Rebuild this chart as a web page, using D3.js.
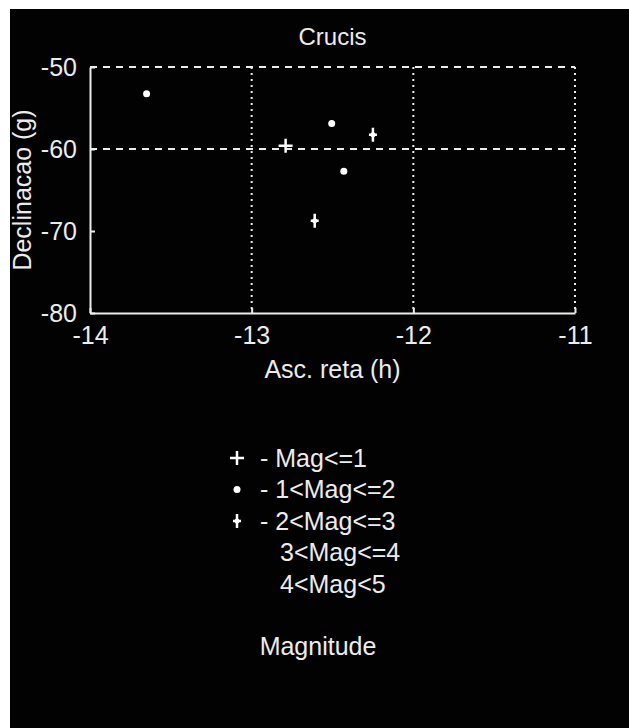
<!DOCTYPE html>
<html>
<head>
<meta charset="utf-8">
<script src="https://cdn.jsdelivr.net/npm/d3@7"></script>
<style>
  body { margin: 0; background: #fff; }
  text { font-family: "Liberation Sans", Arial, sans-serif; fill: #ececec; }
</style>
</head>
<body>
<div id="chart"></div>
<script>
// data
const ra = [-13.65, -12.79, -12.505, -12.25, -12.43, -12.61];
const dec = [-53.25, -59.6, -56.9, -58.25, -62.7, -68.75];
const magClass = [2, 1, 2, 3, 2, 3];
const legendLabels = ["- Mag<=1", "- 1<Mag<=2", "- 2<Mag<=3", "3<Mag<=4", "4<Mag<5"];
const xTickVals = [-14, -13, -12, -11];
const yTickVals = [-50, -60, -70, -80];
const gridX = [-13, -12];
const gridY = [-60];

const width = 629;
const height = 728;
const plot = {l: 90, r: 575, t: 67, b: 313};
const ink = "#ececec";
const fmt = d => String(d); // plain hyphen, like the original

const svg = d3.select("#chart")
    .append("svg")
    .attr("width", width)
    .attr("height", height);

// black panel
svg.append("rect")
    .attr("x", 10)
    .attr("y", 9)
    .attr("width", width - 10)
    .attr("height", height - 9)
    .attr("fill", "#020202");

const xScale = d3.scaleLinear().domain([-14, -11]).range([plot.l, plot.r]);
const yScale = d3.scaleLinear().domain([-80, -50]).range([plot.b, plot.t]);

// grid
gridX.forEach(v => {
    svg.append("line")
        .attr("x1", xScale(v)).attr("x2", xScale(v))
        .attr("y1", plot.t).attr("y2", plot.b)
        .attr("stroke", ink).attr("stroke-width", 2)
        .attr("stroke-dasharray", "2,4");
});
gridY.forEach(v => {
    svg.append("line")
        .attr("x1", plot.l).attr("x2", plot.r)
        .attr("y1", yScale(v)).attr("y2", yScale(v))
        .attr("stroke", ink).attr("stroke-width", 2)
        .attr("stroke-dasharray", "7,6");
});

// box: top dashed, right dotted
svg.append("line")
    .attr("x1", plot.l).attr("x2", plot.r)
    .attr("y1", plot.t).attr("y2", plot.t)
    .attr("stroke", ink).attr("stroke-width", 2)
    .attr("stroke-dasharray", "7,6");
svg.append("line")
    .attr("x1", plot.r).attr("x2", plot.r)
    .attr("y1", plot.t).attr("y2", plot.b)
    .attr("stroke", ink).attr("stroke-width", 2)
    .attr("stroke-dasharray", "2,4");

// axes
const xAxis = d3.axisBottom(xScale)
    .tickValues(xTickVals)
    .tickSizeInner(-5)
    .tickSizeOuter(0)
    .tickPadding(16)
    .tickFormat(fmt);
const gx = svg.append("g")
    .attr("transform", `translate(0, ${plot.b})`)
    .call(xAxis);

const yAxis = d3.axisLeft(yScale)
    .tickValues(yTickVals)
    .tickSizeInner(-5)
    .tickSizeOuter(0)
    .tickPadding(13)
    .tickFormat(fmt);
const gy = svg.append("g")
    .attr("transform", `translate(${plot.l}, 0)`)
    .call(yAxis);

[gx, gy].forEach(g => {
    g.select(".domain").attr("stroke", ink).attr("stroke-width", 2);
    g.selectAll(".tick line").attr("stroke", ink).attr("stroke-width", 2);
    g.selectAll(".tick text")
        .attr("fill", ink)
        .style("font-size", "25px")
        .style("font-family", "Liberation Sans, Arial, sans-serif");
});
gx.selectAll(".tick text").attr("dy", "0.6em");

// title and labels
svg.append("text")
    .attr("x", (plot.l + plot.r) / 2)
    .attr("y", 45)
    .attr("text-anchor", "middle")
    .attr("font-size", "24px")
    .text("Crucis");

svg.append("text")
    .attr("x", (plot.l + plot.r) / 2)
    .attr("y", 378)
    .attr("text-anchor", "middle")
    .attr("font-size", "25px")
    .text("Asc. reta (h)");

svg.append("text")
    .attr("transform", `translate(31, ${(plot.t + plot.b) / 2}) rotate(-90)`)
    .attr("text-anchor", "middle")
    .attr("font-size", "25px")
    .text("Declinacao (g)");

// markers
function drawMarker(g, cls, x, y) {
    if (cls === 1) {
        g.append("path")
            .attr("d", `M${x - 7},${y}H${x + 7}M${x},${y - 7}V${y + 7}`)
            .attr("stroke", "#fff").attr("stroke-width", 2.5);
    } else if (cls === 2) {
        g.append("circle")
            .attr("cx", x).attr("cy", y).attr("r", 3.5)
            .attr("fill", "#fff");
    } else if (cls === 3) {
        g.append("path")
            .attr("d", `M${x - 4},${y}H${x + 4}M${x},${y - 7}V${y + 7}`)
            .attr("stroke", "#fff").attr("stroke-width", 2.5);
        g.append("circle")
            .attr("cx", x).attr("cy", y).attr("r", 2.5)
            .attr("fill", "#fff");
    }
}

const pts = svg.append("g");
ra.forEach((r, i) => drawMarker(pts, magClass[i], xScale(r), yScale(dec[i])));

// legend
const legendY = d3.scaleLinear().domain([0, 4]).range([458, 584]);
const leg = svg.append("g");
legendLabels.forEach((lab, i) => {
    const y = legendY(i);
    if (i < 3) drawMarker(leg, i + 1, 237, y);
    leg.append("text")
        .attr("x", i < 3 ? 260 : 280)
        .attr("y", y)
        .attr("dy", "0.35em")
        .attr("font-size", "25px")
        .text(lab);
});

svg.append("text")
    .attr("x", 318)
    .attr("y", 646)
    .attr("dy", "0.35em")
    .attr("text-anchor", "middle")
    .attr("font-size", "25px")
    .text("Magnitude");
</script>
</body>
</html>
